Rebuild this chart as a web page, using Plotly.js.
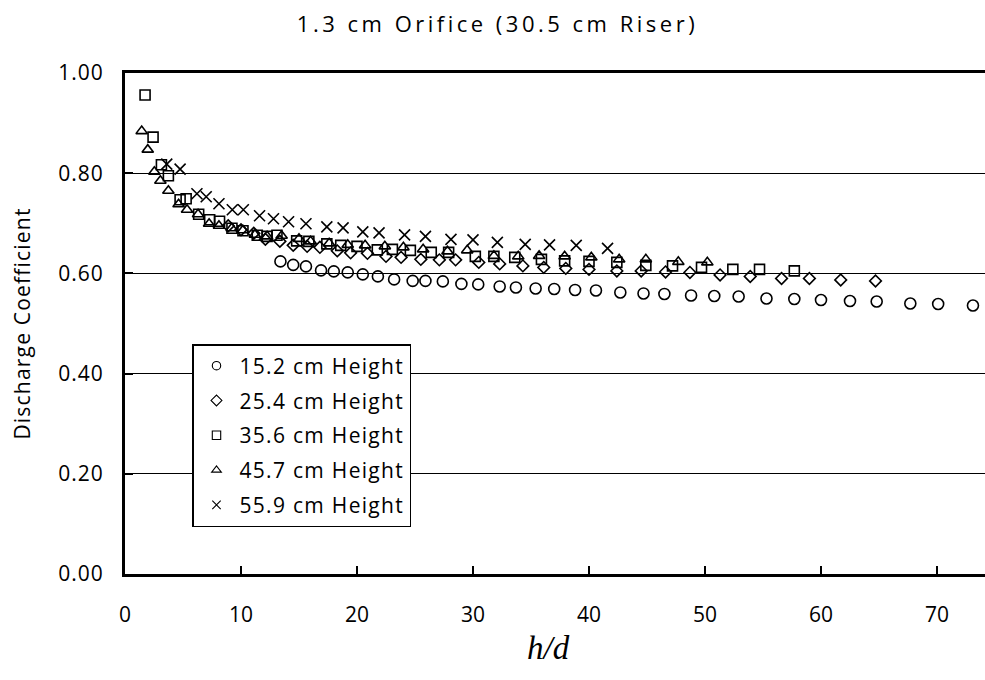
<!DOCTYPE html>
<html>
<head>
<meta charset="utf-8">
<script src="https://cdn.plot.ly/plotly-3.0.1.min.js"></script>
<style>
  html, body { margin: 0; padding: 0; background: #fff; overflow: hidden; }
  #chart { width: 995px; height: 680px; }
  /* loose tracking, like the original office-style chart text
     (global selectors so Plotly's text measuring sees the same spacing) */
  .gtitle { letter-spacing: 3.5px; }
  .legendtext { letter-spacing: 1.3px; }
  .ytitle { letter-spacing: 1.2px; }
  .ytick text { letter-spacing: 1px; }
</style>
</head>
<body>
<div id="chart"></div>
<script>
// Discharge coefficient vs. head ratio h/d, 1.3 cm orifice on a 30.5 cm riser

const seriesNames = [
  '15.2 cm Height',
  '25.4 cm Height',
  '35.6 cm Height',
  '45.7 cm Height',
  '55.9 cm Height'
];

// 15.2 cm height
const hd152 = [13.4, 14.5, 15.6, 16.9, 18.0, 19.2, 20.5, 21.8, 23.2, 24.8, 25.9, 27.4, 29.0, 30.45, 32.3, 33.7,
  35.4, 37.0, 38.8, 40.6, 42.7, 44.7, 46.5, 48.8, 50.8, 52.9, 55.3, 57.7, 60.0, 62.5, 64.8, 67.7, 70.1, 73.1];
const cd152 = [0.624, 0.617, 0.614, 0.606, 0.604, 0.602, 0.598, 0.594, 0.588, 0.585, 0.585, 0.584, 0.579, 0.578, 0.574, 0.572,
  0.570, 0.569, 0.567, 0.566, 0.562, 0.560, 0.559, 0.556, 0.555, 0.554, 0.550, 0.549, 0.547, 0.545, 0.544, 0.540, 0.539, 0.536];

// 25.4 cm height
const hd254 = [8.9, 10.0, 11.1, 12.1, 13.35, 14.5, 15.7, 16.8, 18.3, 19.45, 20.9, 22.5, 23.8, 25.5, 27.1, 28.5,
  30.5, 32.3, 34.3, 36.1, 38.0, 40.0, 42.4, 44.5, 46.6, 48.7, 51.3, 53.9, 56.6, 59.0, 61.7, 64.7];
const cd254 = [0.695, 0.687, 0.680, 0.668, 0.664, 0.656, 0.654, 0.652, 0.645, 0.641, 0.640, 0.634, 0.632, 0.628, 0.627, 0.627,
  0.622, 0.619, 0.615, 0.612, 0.610, 0.608, 0.605, 0.605, 0.603, 0.602, 0.597, 0.594, 0.590, 0.590, 0.587, 0.585];

// 35.6 cm height
const hd356 = [1.73, 2.42, 3.14, 3.74, 4.75, 5.27, 6.35, 7.3, 8.15, 9.22, 10.17, 11.4, 12.25, 13.1, 14.8, 15.85,
  17.4, 18.6, 20.0, 21.75, 23.05, 24.6, 26.4, 27.9, 30.2, 31.8, 33.6, 35.9, 37.9, 40.0, 42.4, 44.9,
  47.2, 49.7, 52.4, 54.7, 57.7];
const cd356 = [0.956, 0.872, 0.817, 0.795, 0.747, 0.749, 0.718, 0.707, 0.704, 0.690, 0.685, 0.676, 0.674, 0.676, 0.665, 0.664,
  0.659, 0.656, 0.654, 0.647, 0.648, 0.646, 0.642, 0.642, 0.634, 0.634, 0.632, 0.628, 0.625, 0.624, 0.622, 0.616,
  0.615, 0.612, 0.608, 0.608, 0.605];

// 45.7 cm height
const hd457 = [1.44, 1.96, 2.53, 3.05, 3.74, 4.62, 5.35, 6.3, 7.25, 8.1, 9.2, 10.17, 11.2, 12.25, 13.5, 15.0,
  16.0, 17.6, 19.2, 20.7, 22.4, 24.0, 25.7, 27.8, 29.5, 31.8, 33.9, 35.7, 37.9, 40.2, 42.6, 44.9, 47.7, 50.2];
const cd457 = [0.884, 0.847, 0.803, 0.785, 0.765, 0.738, 0.727, 0.718, 0.699, 0.695, 0.690, 0.686, 0.677, 0.674, 0.675, 0.669,
  0.664, 0.660, 0.657, 0.656, 0.654, 0.652, 0.648, 0.644, 0.646, 0.635, 0.634, 0.635, 0.634, 0.632, 0.628, 0.628, 0.623, 0.622];

// 55.9 cm height
const hd559 = [3.6, 4.75, 6.2, 7.0, 8.1, 9.25, 10.2, 11.6, 12.8, 14.1, 15.6, 17.4, 18.8, 20.5, 21.9, 24.1,
  25.9, 28.1, 30.0, 32.1, 34.5, 36.6, 38.9, 41.6];
const cd559 = [0.818, 0.808, 0.759, 0.753, 0.739, 0.727, 0.727, 0.715, 0.709, 0.703, 0.699, 0.693, 0.691, 0.683, 0.681, 0.677,
  0.674, 0.668, 0.667, 0.662, 0.658, 0.657, 0.656, 0.650];

const xTicks = [0, 10, 20, 30, 40, 50, 60, 70];
const yTicks = [0.0, 0.2, 0.4, 0.6, 0.8, 1.0];

const FONT = '"Open Sans", "Noto Sans", sans-serif';

function series(name, x, y, symbol, size) {
  return {
    type: 'scatter',
    mode: 'markers',
    name: name,
    x: x,
    y: y,
    legendgroup: name,
    marker: {
      symbol: symbol,
      size: size,
      color: '#000',
      line: { color: '#000', width: 1.6 }
    },
    hoverinfo: 'x+y+name'
  };
}

const traces = [
  series(seriesNames[0], hd152, cd152, 'circle-open', 11),
  series(seriesNames[1], hd254, cd254, 'diamond-open', 9),
  series(seriesNames[2], hd356, cd356, 'square-open', 10),
  series(seriesNames[3], hd457, cd457, 'triangle-up-open', 10),
  series(seriesNames[4], hd559, cd559, 'x-thin-open', 11)
];

const layout = {
  width: 995,
  height: 680,
  margin: { l: 125, r: 0, t: 73, b: 106 },
  paper_bgcolor: '#fff',
  plot_bgcolor: '#fff',
  font: { family: FONT, size: 21, color: '#000' },
  showlegend: true,
  title: {
    text: '1.3 cm Orifice (30.5 cm Riser)',
    font: { family: FONT, size: 22, color: '#000' },
    x: 0.5,
    xanchor: 'center',
    y: 1 - 24 / 680,
    yanchor: 'middle'
  },
  xaxis: {
    range: [0, 75],
    tickmode: 'array',
    tickvals: xTicks,
    ticktext: xTicks.map(String),
    ticks: 'inside',
    ticklen: 8,
    tickwidth: 2,
    tickcolor: '#000',
    ticklabelstandoff: 20,
    showline: true,
    linewidth: 3,
    linecolor: '#000',
    mirror: true,
    showgrid: false,
    zeroline: false,
    tickfont: { family: FONT, size: 21, color: '#000' }
  },
  yaxis: {
    range: [0, 1],
    tickmode: 'array',
    tickvals: yTicks,
    ticktext: yTicks.map(v => v.toFixed(2)),
    ticks: 'inside',
    ticklen: 8,
    tickwidth: 2,
    tickcolor: '#000',
    ticklabelstandoff: 14,
    showline: true,
    linewidth: 3,
    linecolor: '#000',
    mirror: true,
    showgrid: true,
    gridcolor: '#000',
    gridwidth: 1,
    zeroline: false,
    tickfont: { family: FONT, size: 21, color: '#000' },
    title: {
      text: 'Discharge Coefficient',
      font: { family: FONT, size: 21, color: '#000' },
      standoff: 22
    }
  },
  legend: {
    x: (192 - 125) / 870,
    y: (574 - 344) / 501,
    xanchor: 'left',
    yanchor: 'top',
    bgcolor: '#fff',
    bordercolor: '#000',
    borderwidth: 1.5,
    font: { family: FONT, size: 21, color: '#000' },
    tracegroupgap: 4.5,
    itemsizing: 'constant',
    itemwidth: 36
  },
  annotations: [{
    text: 'h/d',
    xref: 'paper',
    yref: 'paper',
    x: (548 - 125) / 870,
    y: (574 - 648) / 501,
    xanchor: 'center',
    yanchor: 'middle',
    showarrow: false,
    font: { family: '"Liberation Serif", "DejaVu Serif", serif', size: 33, color: '#000', style: 'italic' }
  }]
};

Plotly.newPlot('chart', traces, layout, { displayModeBar: false, staticPlot: true }).then(function (gd) {
  // legend keys are drawn a little smaller than the plotted markers
  gd.querySelectorAll('.legend .legendpoints path.scatterpts').forEach(function (p) {
    const t = p.getAttribute('transform') || '';
    p.setAttribute('transform', t + ' scale(0.7)');
    p.style.strokeWidth = '1.6px';
  });
});
</script>
</body>
</html>
